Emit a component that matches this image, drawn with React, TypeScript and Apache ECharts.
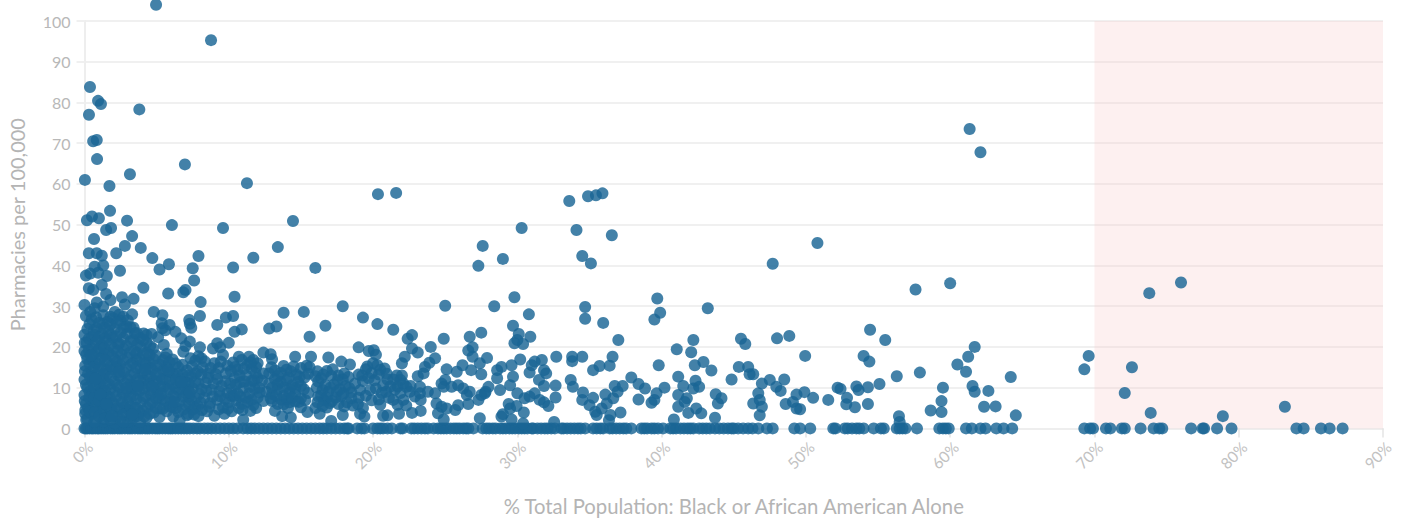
import React, { useEffect, useRef } from "react";
import * as echarts from "echarts";

const xTicks = [0, 10, 20, 30, 40, 50, 60, 70, 80, 90];
const yTicks = [0, 10, 20, 30, 40, 50, 60, 70, 80, 90, 100];
const xTitle = "% Total Population: Black or African American Alone";
const yTitle = "Pharmacies per 100,000";

const zeroRowLeft = [
  0,0.1,0.2,0.35,0.5,0.6,0.75,0.9,1,1.15,1.3,1.45,1.6,1.8,1.95,2.1,2.3,2.45,2.6,2.8,3,3.15,3.3,3.5,3.7,3.85,4,4.2,4.35,4.5,4.7,4.9,5.05,5.2,5.4,5.6,5.8,5.95,6.1,6.3,6.5,6.7,6.9,7.1,7.3,7.55,7.8,8,8.3,8.55,8.8,9.1,9.4,9.7,10,10.3,10.6,11,11.3,11.55,11.8,12.1,12.4,12.7,13,13.3,13.6,13.9,14.2,14.5,14.8,15.1,15.4,15.7,16,16.3,16.55,16.8,17.1,17.4,17.7,18,18.2,
  18.3,18.9,19.2,19.4,20,20.3,20.5,20.7,21,21.3,21.9,22.05,
];
const zeroRowMiddle = [
  22.65,22.85,23.1,23.35,23.6,23.8,24.2,24.5,24.7,24.9,25.1,25.35,25.6,25.8,26,26.25,26.45,26.6,26.95,27.6,27.85,28.05,28.3,28.5,28.8,29,29.2,29.45,29.65,29.85,30.1,30.3,30.5,30.7,31,31.1,31.4,31.65,31.9,32.1,32.35,32.6,33.05,33.2,33.45,33.7,33.95,34.2,34.4,34.7,35.25,35.5,35.75,35.95,36.4,36.6,36.85,37.1,37.35,37.55,37.9,38.6,38.8,39,39.3,39.5,39.75,40.1,40.6,40.8,41,41.3,41.55,41.8,42,42.2,42.6,42.85,43.1,43.35,43.7,44,44.3,44.6,44.85,45,45.3,45.65,46,46.3,46.7,47.3,47.7,49.2,
];
const zeroRowRight = [
  49.6,50.3,51.9,52.05,52.7,52.9,53.2,53.5,53.7,54,54.7,55.2,55.4,56.3,56.5,56.7,56.9,57.7,59.25,59.5,59.7,59.9,61.1,61.5,62.1,62.45,63.2,63.7,64.3,69.3,69.7,69.9,70.8,71.1,71.9,72.1,73.2,74.1,74.5,74.7,76.7,77.5,77.6,78.5,79.5,84,84.5,85.7,86.3,87.2,
];

const outliers = [
  [4.96,104],[8.77,95.3],[0.38,83.8],[0.94,80.4],[1.14,79.6],[3.8,78.3],[0.31,77],[0.6,70.5],[0.85,70.8],[0.87,66.1],[6.96,64.8],[3.15,62.4],[0.03,61],[11.26,60.2],[1.73,59.5],[20.34,57.5],[21.6,57.8],[33.6,55.8],[34.9,57],[35.45,57.2],[35.9,57.7],[1.77,53.4],[0.52,52],[0.17,51.1],[1,51.6],[2.95,51],[14.45,50.9],[1.84,49.2],[1.5,48.7],[6.06,49.9],[9.6,49.2],[30.3,49.2],[34.1,48.7],[3.3,47.2],[36.55,47.4],[0.66,46.5],[50.8,45.5],[27.6,44.8],[13.4,44.5],[2.8,44.8],[3.9,44.3],[0.3,43],[0.85,43],[1.2,42.4],[2.2,43],[4.7,41.8],[7.9,42.3],[11.7,41.9],[29,41.6],[34.5,42.3],[35.1,40.5],[27.3,39.9],[47.7,40.4],[5.85,40.3],[5.2,39],[7.5,39.3],[10.3,39.5],[16,39.4],[2.46,38.7],[0.1,37.5],[0.4,38],[0.7,39.7],[1.3,40],[1.55,37.4],[0.95,38.2],[4.08,34.5],[5.8,33.1],[6.85,33.4],[7,34],[7.6,36.3],[10.4,32.3],[8.05,31],[2.6,32.2],[2.8,30.4],[3.4,31.8],[0.3,34.4],[0.6,34],[1.2,35.2],[1.5,33],[1.8,31.5],[0,30.3],[0.7,29.5],[1.3,29.9],[0.85,30.9],
  [57.6,34.1],[60,35.6],[73.8,33.2],[76,35.8],[25,30.1],[28.4,30],[29.8,32.2],[30.8,28],[34.7,29.8],[34.7,26.9],[35.95,25.9],[39.7,31.9],[39.9,28.4],[39.5,26.7],[43.2,29.5],
];

const upperBand = [
  [3.3,28],[4.8,28.6],[5.4,27.8],[8,27.6],[7.26,26.6],[7.4,24.7],[7.3,25.7],[9.2,25.4],[9.8,27.2],[10.3,27.6],[10.4,23.7],[10.9,24.3],[12.8,24.5],[13.3,25],[13.8,28.4],[15.2,28.6],[16.7,25.2],[15.6,22.5],[17.9,30],[19.3,27.2],[20.3,25.6],[21.4,24.2],[19,19.9],[19.7,19],[20.05,19.2],[20.2,18.1],[16.9,17.4],[15.7,17.6],[14.6,17.6],[12.9,18.2],[13,17],[12.4,18.6],[17.8,16.4],[18.4,15.7],[20,16],[20.8,14.7],
  [2.1,28.6],[1.3,27.8],[1.8,27.4],[2.7,27.4],[2.4,27.9],[2.9,25],[3.5,23.3],[4.1,23.3],[4.65,23.2],[4.3,22.9],[5.35,25.8],[5.9,25.4],[5.6,24.1],[5.4,24.6],[6.3,23.7],[6.7,22.1],[7.3,21.3],[6.85,18.8],[8,19.9],[5.5,20.5],[9.2,20.9],[10,21],[8.9,19.6],[9.4,19.9],[8.1,17.2],[10.7,17.6],[11.4,17.6],[11.7,16.8],[12,16],
];

const denseLeft = [
  [0,23],[0.2,24.4],[0.5,26.8],[0.8,27.3],[0.1,27.6],[0.4,28.6],[0,19],[0.05,15.4],[0,12],[0,8.2],[0.1,6],[0.05,3.6],[0.15,21],[0.2,17],[0.25,13.5],[0.2,10],[0.25,5],[0.2,2.3],
  [0.5,22.4],[0.5,19.6],[0.55,16.8],[0.5,14],[0.55,11.4],[0.5,8.6],[0.55,6.2],[0.5,3.5],[0.85,24.6],[0.85,21.6],[0.9,18.9],[0.8,16],[0.85,13.1],[0.8,10.5],[0.9,7.6],[0.85,4.9],[0.8,2],
  [1.25,25.7],[1.2,23.2],[1.2,20.4],[1.25,17.5],[1.15,15],[1.3,12.2],[1.2,9.4],[1.25,6.5],[1.15,3.9],[1.3,1.7],[1.6,26.2],[1.65,23.9],[1.55,21.5],[1.65,18.6],[1.6,16.2],[1.6,13.4],[1.7,10.8],[1.55,8],[1.65,5.3],[1.6,2.9],
  [2,27],[2.1,24.5],[1.95,22.3],[2.05,19.6],[2.1,17],[1.95,14.5],[2.05,11.6],[2.1,9],[1.95,6.4],[2.05,3.7],[2.1,1.4],[2.5,26.4],[2.5,23.5],[2.4,20.8],[2.55,18.2],[2.45,15.6],[2.5,12.7],[2.4,10.1],[2.55,7.5],[2.45,4.8],[2.5,2.2],
  [3,26.5],[2.95,23.2],[2.9,20.3],[3,17.4],[2.9,14.8],[3,12],[2.95,9.1],[3,6.6],[2.9,3.9],[3,1.6],[3.4,24.7],[3.4,21.7],[3.45,19],[3.35,16.1],[3.45,13.5],[3.4,10.6],[3.35,8],[3.45,5.2],[3.4,2.6],
  [3.85,22.2],[3.9,19.9],[3.8,17.2],[3.9,14.6],[3.85,11.7],[3.8,9.2],[3.9,6.4],[3.85,3.8],[3.85,1.6],[4.3,21],[4.35,18.5],[4.25,15.9],[4.35,13.1],[4.3,10.4],[4.25,7.8],[4.35,5.1],[4.3,2.6],
  [4.75,19.6],[4.8,17],[4.7,14.4],[4.8,11.7],[4.75,9.1],[4.7,6.4],[4.8,3.9],[5.1,22.4],[5.25,15.6],[5.2,13],[5.25,10.3],[5.15,7.6],[5.25,4.9],[5.2,2.8],[5.6,17.4],[5.7,15],[5.6,12],[5.7,9.6],[5.6,6.8],[5.7,4.2],[5.7,18.3],
  [6.1,16.9],[6.15,13.4],[6.1,10.8],[6.15,8],[6.1,5.3],[6.15,2.9],[6.5,15],[6.6,12.2],[6.5,9.4],[6.6,6.6],[6.5,4],[6.6,2],[7,20.2],[7.1,14.2],[7,11.4],[7.05,8.6],[7,5.8],[7.1,3.2],[7.35,17.2],[7.45,15.3],[7.4,12.6],[7.5,9.8],[7.4,7],[7.5,4.6],[7.9,17.7],[7.85,14],[7.9,11],[7.95,8.4],[7.85,5.5],[7.9,3],
  [0.3,22],[0.7,20.6],[1,12],[1.4,18.3],[1.8,9.7],[2.2,15.1],[2.7,19.5],[3.2,13],[3.6,7.2],[4.1,11.8],[4.5,16.1],[0.35,9],[0.7,6.3],[1.1,4.6],[1.5,14.4],[2,6],[2.3,20.7],[2.8,11],[3.1,4.4],[3.6,16.9],[4,13.5],[4.6,8.4],[5,11.5],[5.4,7.2],[5.9,13.8],[6.3,10],[6.8,13.2],[7.2,9.5],[0.6,12.7],[1,8.8],[1.45,11],[1.9,17.8],[2.35,13],[2.75,5.2],[3.25,9.8],[3.65,20.6],[4.05,4.4],[4.55,12.6],[5.05,9],[5.45,14.2],[5.95,7],[6.4,13.4],[6.85,7.8],[7.25,6],
];

const denseLeftSecond = [
  [0.02,21],[0.12,18.1],[0.03,14],[0.1,10.7],[0.02,6.7],[0.06,4.5],[0.12,2.1],[0.35,25.6],[0.3,19.2],[0.35,15.9],[0.38,12.6],[0.33,7.5],[0.35,4.1],[0.65,24.1],[0.7,22.9],[0.62,18.1],[0.68,15.2],[0.7,10],[0.66,7.4],[0.72,4],[0.68,1.6],
  [1.02,25.9],[1,22.3],[1.03,19.5],[1.05,16.9],[1,14.3],[1.08,10.5],[1,6.9],[1.02,2.9],[1.4,24.7],[1.42,22.1],[1.38,19.7],[1.42,16.7],[1.35,13.3],[1.4,9.1],[1.42,7.2],[1.36,4.6],[1.42,2.4],
  [1.8,25.5],[1.82,23],[1.78,20.6],[1.85,15.3],[1.82,12.6],[1.76,7.5],[1.82,4.7],[1.8,2.2],[2.25,26],[2.22,22.5],[2.28,18.8],[2.25,16.4],[2.28,10.5],[2.22,7.9],[2.3,5],[2.25,2.8],
  [2.72,24.7],[2.7,22.1],[2.68,16.7],[2.72,13.8],[2.7,8.5],[2.66,6.4],[2.72,3.4],[2.68,1.6],[3.18,24.8],[3.2,21.4],[3.16,18.6],[3.22,15.6],[3.18,10.8],[3.16,7.7],[3.2,5.3],[3.22,2.6],
  [3.62,23.4],[3.62,18.5],[3.6,14.9],[3.66,12],[3.62,9.6],[3.6,5],[3.66,3],[4.08,21.7],[4.1,18.3],[4.08,16],[4.06,9.8],[4.1,7.4],[4.14,2.9],[4.55,20.2],[4.52,18],[4.56,14.7],[4.5,10.8],[4.55,6],[4.52,3.6],
  [4.95,17.9],[5,15.4],[4.98,13.3],[4.96,7.4],[4.98,5],[5.45,16.7],[5.42,12.1],[5.48,10.2],[5.44,4.9],[5.9,16.2],[5.92,11.9],[5.88,9.6],[5.94,5.3],[6.32,15.9],[6.35,12],[6.3,7.6],[6.34,5],[6.8,15.6],[6.82,10.7],[6.78,9.5],[6.84,4.6],
  [7.2,12.9],[7.22,11.1],[7.25,7.8],[7.2,3.5],[7.68,16.6],[7.7,13.5],[7.66,11.4],[7.72,7.4],[7.68,5.1],[8.1,13.2],[8.12,9.6],[8.06,6.3],[8.14,4.5],[0.45,17.9],[0.75,12.2],[1.1,8.3],[1.5,6],[1.9,3],[2.4,13.9],[2.9,9.9],[3.3,3.4],[3.7,10.4],[4.2,14.5],[4.7,10.2],[5.3,8.4],[5.8,14.3],[6.2,6.5],[6.7,11.4],[7.3,8.8],[7.6,3.4],
];

const denseMiddle = [
  [8.2,15],[8.6,13.5],[9,16],[9.3,14.8],[9.6,18],[9.9,15.4],[8.4,11.2],[8.8,9.5],[9.2,12.1],[9.5,10.4],[9.9,8.7],[8.3,7.5],[8.7,6.2],[9.2,7],[9.6,5.1],[10,6.4],[8.5,4.2],[9,3.1],[9.7,3.6],[10.2,4.2],
  [10.3,16.2],[10.6,14.4],[10.9,16.8],[11.3,15.6],[11.6,14.6],[11.9,15],[10.4,12.4],[10.8,11.3],[11.2,13],[11.6,11.7],[12,12.4],[10.2,9.7],[10.6,8.6],[11,9.9],[11.4,8.5],[11.8,9.7],[12.1,10],[10.5,6.9],[10.9,6],[11.3,6.5],[11.7,5.7],[12,7.6],[11,2.1],[11.5,4.3],[10.7,5],
  [12.8,13.5],[13.2,14.2],[13.6,13.6],[14,14.4],[14.3,14],[14.7,13.2],[15,14.8],[15.4,15.4],[15.5,13.4],[12.8,11],[13.2,12.1],[13.6,11.4],[14,11.8],[14.4,10.6],[14.8,11.4],[15.2,9.6],[12.6,9],[13,8.4],[13.4,9.6],[13.8,8],[14.2,8.8],[14.6,8.4],[15,7.4],[13,6.7],[13.4,6],[13.8,5.9],[14.2,6.4],[14.6,6.6],[15,5.2],[13.2,4.3],[13.7,3],[14.3,2.7],
  [16,12.8],[16.4,12.3],[16.8,14.1],[17.1,12.9],[17.6,13],[18,13.5],[16.1,10],[16.5,9.4],[16.9,9],[17.3,10.8],[17.7,9.6],[18.1,10.4],[18.5,8.9],[16.2,7.8],[16.6,6.9],[17,6.2],[17.4,7.6],[17.8,7.9],[18.2,6.4],[16,5],[16.3,3.6],[16.8,5.1],[17.9,3.3],[18.6,5.6],[19.1,3.6],[19.4,2.9],[17.1,1.8],
  [19,13.2],[19.3,11.6],[19.5,14.5],[19.9,13.6],[20.4,13.2],[20.7,10.6],[21,12],[21.4,12],[21.7,10.3],[19.1,9.4],[19.5,8],[19.9,6.9],[20.4,7.1],[20.5,5.8],[20.7,3.1],[21,3.2],[21.4,7],[21.8,3.6],[21.9,8.7],[21.5,9.5],[20.9,9],
];

const denseMiddleSecond = [
  [8.35,16.4],[8.75,14.8],[9.1,13.3],[9.45,16.4],[9.8,13.5],[10.15,14.1],[8.55,12.4],[8.95,11],[9.35,9.1],[9.75,11.6],[10.1,11],[8.45,9.2],[8.9,7.8],[9.4,7.9],[9.75,7.2],[10.2,8],[8.65,5.3],[9.3,4.7],[9.95,4.9],[10.5,10.7],
  [10.45,15.1],[10.75,13],[11.05,14.7],[11.5,16.2],[11.85,13.5],[11.1,11.5],[11.45,10.2],[11.75,11.8],[10.4,8],[10.8,7.8],[11.2,7.6],[11.6,7],[12.15,8.8],[12.3,11.7],[10.95,4.5],[11.9,5],[12.4,13.5],[12.4,6.7],
  [12.95,15],[13.4,12.8],[13.8,15.3],[14.15,12.5],[14.5,15.2],[14.9,12.6],[15.25,12.5],[15.6,15],[13,10],[13.4,10.8],[13.8,10],[14.2,9.7],[14.6,9.9],[15,10.4],[15.5,8.7],[12.9,7.4],[13.3,8],[13.65,7.1],[14.05,7.2],[14.4,7.5],[14.85,6.5],[15.3,6.9],[15.45,4],[14.1,5],
  [16.15,14],[16.55,13.2],[17.2,14.5],[17.55,11.8],[17.9,12],[18.3,12.6],[16.2,11.5],[16.7,10.6],[17.05,10],[17.5,9],[17.95,8.6],[18.35,9.9],[18.75,11],[16.4,8],[16.8,7.5],[17.15,6.7],[17.6,6],[18,5.4],[18.5,7.4],[16.5,5.5],[16.15,6.4],[19,7.5],[18.95,5.9],[19.3,5],
  [19.25,13],[19.7,12.3],[20.1,11.8],[20.5,14.4],[20.95,13.4],[21.2,10.3],[21.65,13],[22,13],[19.8,9.4],[20.2,9.8],[20.6,8.7],[21.1,7.5],[21.7,5.8],[22.1,11],[19.6,15.2],[20.3,15.5],
];

const band22to30 = [
  [22.7,22.9],[22.4,22],[24,20],[22.7,19.6],[23.1,18.6],[22.2,17.6],[22,16],[24.3,17.2],[23.9,16.1],[23.6,15.1],[23.5,13.5],[23.1,12.8],[26.9,19.9],[26.6,19.1],[26.9,17.6],[27.9,17.3],[27.4,16],[26.2,15.5],[26.8,14.3],[25.8,13.9],[25.1,14.5],[27.5,13.3],[28.9,15.1],[28.6,14.3],[29.6,15.5],[29.7,12.7],[29.5,10.6],[28.6,12.3],[28.8,9.4],[28,10.2],[27.8,9],[27.3,7],[27.5,8.2],[29.7,25.2],[27.5,23.5],[30.1,23.2],[30.9,22.5],[30,21.7],[29.8,20.9],[30.4,20.7],[26.7,22.5],[24.9,22],
  [21.9,11.9],[22.1,7],[22.3,5.6],[22.7,3.8],[23.3,4.3],[22.55,9],[22.9,7.8],[23.25,8.6],[23.3,7],[23.25,10.2],[22.3,10.2],[22.6,10.4],[23.8,9],[24.3,8.6],[24.75,11],[25,11.9],[24.9,10.2],[25.45,10.2],[25.9,10.6],[26.25,9.8],[26.7,9],[26.5,8.2],[24.4,6.1],[24.75,5.3],[24.5,3.7],[24.9,2.2],[25.1,4.9],[25.7,4.5],[25.9,5.7],[26.6,6],[27.4,2.5],[27.75,8.6],[28.9,2.9],[29.4,6],[29.5,4.9],[29,3.5],[29.6,2.2],[29.95,5.5],[30.45,3.9],[30.4,1.2],[30,8.6],[30.5,7.4],[30.85,7.8],[31.2,8.6],[31.55,7],[32.15,5.5],[31.85,6.4],[32.55,1.6],
];

const band30to50 = [
  [30.2,16.9],[31.2,16.4],[31,15.5],[31.7,16.8],[30.85,13.7],[31.85,14.3],[32,13.5],[31.5,11.9],[31.85,10.4],[32.7,17.6],[32.65,10.5],[32.65,7.6],[33.8,17.6],[33.8,16.5],[34.5,17.6],[33.7,11.9],[33.85,10.2],[34.55,8.8],[34.5,7],[35.25,14.3],[35.7,15.3],[36.4,15.4],[36.6,17.6],[37,21.7],[35.25,7.5],[35,5.7],[35.4,4.1],[35.5,3.3],[36.1,8.3],[36.65,7.4],[36.2,6.1],[35.85,4.9],[36.45,3.3],[36.35,2],[37.15,3.9],[36.75,10.4],[37.3,10.4],[36.95,9],[37.9,12.5],[38.4,10.9],[38.85,9.8],[38.4,7.1],[39.3,6.3],[39.65,8.6],[40.2,10],[39.8,15.5],[39.5,7],[41.05,19.4],[42.05,18.7],[42.2,21.7],[42.3,15.5],[42.9,16.3],[43.45,14.2],[41.15,12.7],[42.35,11.7],[41.5,10.4],[42.2,9.8],[42.6,10.2],[41.15,8.2],[41.75,7.4],[41.15,5.3],[41.6,6.5],[42.4,4.9],[42.75,3.7],[41.85,3.8],[40.85,2.2],[43.7,2.6],[43.75,8.4],[44.15,7.4],[43.9,6.1],[44.85,12],[45.35,15.1],[45.5,22],[45.8,20.7],[46,15.1],[46.1,13.3],[46.35,13.3],[46.95,11],[47.5,11.9],[48,22.1],[48.85,22.7],[48.5,12],[47.95,10.2],[48.25,9.2],[46.7,8.6],[46.8,7],[46.35,6.1],[46.95,5.3],[46.8,3.2],[49.35,8.3],[48.6,6],[49.1,6.5],[49.35,4.9],
];

const band50plus = [
  [54.45,24.2],[55.5,21.7],[49.95,17.8],[54,17.8],[54.4,16.4],[61.7,20],[61.25,17.6],[60.5,15.7],[61.1,13.9],[57.9,13.7],[56.3,12.8],[55.1,10.9],[64.2,12.6],[69.6,17.8],[69.3,14.5],[72.6,15],[72.1,8.7],[73.9,3.8],[78.9,3],[83.2,5.3],[52.2,10],[52.4,9.7],[53.5,10.3],[53.65,9.4],[54.3,10.1],[49.9,8.9],[50.5,7.5],[51.55,7],[52.85,7.5],[52.8,5.9],[53.4,5.2],[54.3,6],[56.45,3],[56.5,1.6],[59.5,10],[59.4,6.7],[59.4,4],[58.65,4.4],[61.55,10.4],[61.7,9],[62.65,9.2],[62.35,5.3],[63.15,5.4],[64.55,3.2],[49.6,4.7],[61.35,73.5],[62.1,67.8],
];

const shadedFrom = 70;
const shadedTo = 90;

const font = "Lato, 'Noto Sans', sans-serif";

export default function App() {
  const ref = useRef<HTMLDivElement>(null);
  useEffect(() => {
    const chart = echarts.init(ref.current!, undefined, { renderer: "svg" });
    const zeroRow = [...zeroRowLeft, ...zeroRowMiddle, ...zeroRowRight].map((x) => [x, 0]);
    const points = [
      ...zeroRow,
      ...outliers,
      ...upperBand,
      ...denseLeft,
      ...denseLeftSecond,
      ...denseMiddle,
      ...denseMiddleSecond,
      ...band22to30,
      ...band30to50,
      ...band50plus,
    ];
    chart.setOption({
      animation: false,
      backgroundColor: "#ffffff",
      grid: { left: 84.5, right: 20, top: 21, bottom: 92.6, outerBoundsMode: "none" },
      xAxis: {
        type: "value",
        min: 0,
        max: 90,
        interval: 10,
        name: xTitle,
        nameLocation: "middle",
        nameGap: 68,
        nameTextStyle: { color: "#b4b4b4", fontSize: 20.3, fontFamily: font },
        axisLine: { show: true, onZero: false, lineStyle: { color: "#eeeeee", width: 2 } },
        axisTick: { show: true, length: 9, lineStyle: { color: "#e4e4e4", width: 1.5 } },
        axisLabel: {
          color: "#c2c2c2",
          fontSize: 15.5,
          fontFamily: font,
          rotate: 45,
          margin: 10.5,
          verticalAlign: "top",
          formatter: (v: number) => (xTicks.includes(v) ? `${v}%` : ""),
        },
        splitLine: { show: false },
      },
      yAxis: {
        type: "value",
        min: 0,
        max: 100,
        interval: 10,
        name: yTitle,
        nameLocation: "middle",
        nameGap: 58,
        nameTextStyle: { color: "#b4b4b4", fontSize: 20, fontFamily: font },
        axisLine: { show: true, lineStyle: { color: "#eeeeee", width: 2 } },
        axisTick: { show: true, length: 8, lineStyle: { color: "#f0f0f0", width: 2 } },
        axisLabel: {
          color: "#b8b8b8",
          fontSize: 16,
          fontFamily: font,
          margin: 14,
          formatter: (v: number) => (yTicks.includes(v) ? String(v) : ""),
        },
        splitLine: { show: true, lineStyle: { color: "#f0f0f0", width: 2 } },
      },
      series: [
        {
          type: "scatter",
          data: [],
          silent: true,
          z: 1,
          markArea: {
            silent: true,
            itemStyle: { color: "#f9c9c9", opacity: 0.27 },
            data: [[{ xAxis: shadedFrom, yAxis: 0 }, { xAxis: shadedTo, yAxis: 100 }]],
          },
        },
        {
          type: "scatter",
          data: points,
          clip: false,
          z: 3,
          symbol: "circle",
          symbolSize: 12,
          itemStyle: { color: "#1a6595", opacity: 0.82 },
        },
      ],
    });
    return () => chart.dispose();
  }, []);
  return (
    <div
      ref={ref}
      style={{ position: "absolute", left: 0, top: 0, width: 1403, height: 521 }}
    />
  );
}
